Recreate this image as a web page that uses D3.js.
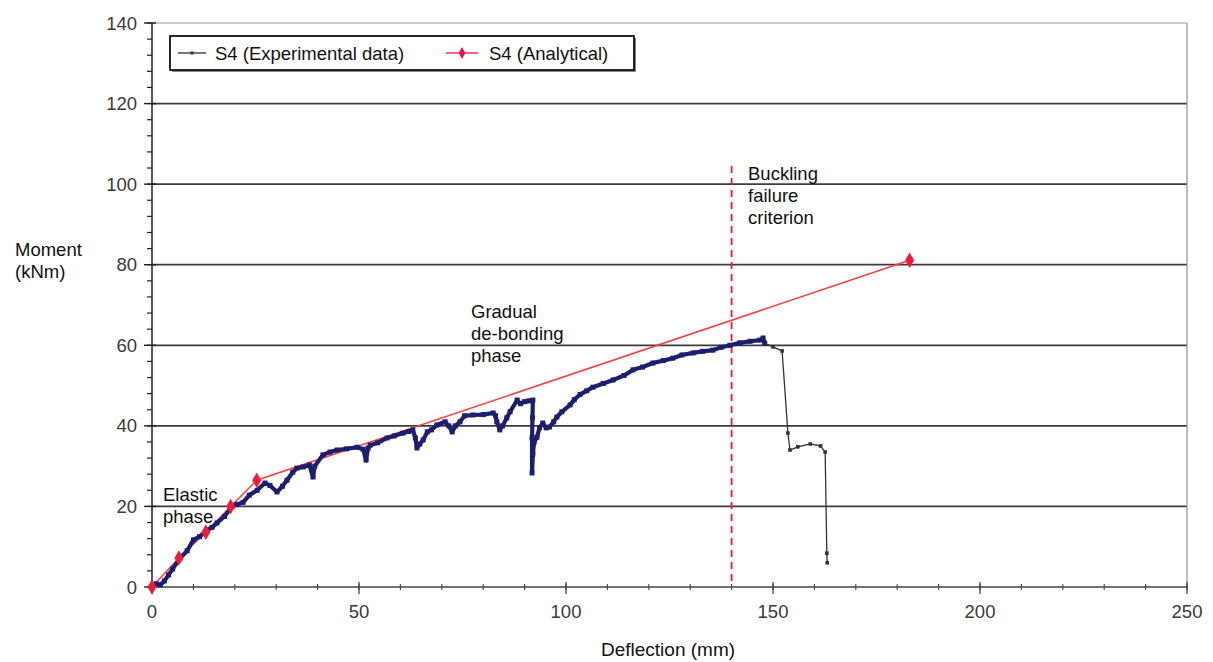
<!DOCTYPE html>
<html>
<head>
<meta charset="utf-8">
<script src="https://cdn.jsdelivr.net/npm/d3@7/dist/d3.min.js"></script>
<style>
  html, body { margin: 0; padding: 0; background: #fff; }
  svg { display: block; font-family: "Liberation Sans", Arial, sans-serif; }
</style>
</head>
<body>
<svg id="chart" width="1213" height="662"></svg>
<script>
// Moment–deflection response of specimen S4

// Experimental loading branch (deflection in mm, moment in kNm)
const expDeflection = [0, 1, 2, 3, 4, 5, 6.8, 8.5, 10, 11.5, 13.3, 14.5, 15.7, 17.5, 19.3, 20.5, 22, 23.5, 25.4, 27.3,
  28.5, 30.2, 31.5, 32.6, 34, 35, 36.5, 38, 38.9, 39.3, 41.3, 43, 44.7, 47, 49.5, 51, 51.7, 52.2, 52.7, 54.5,
  56.8, 58.5, 60.6, 62, 63, 63.6, 64, 64.7, 65.5, 66.5, 67.5, 68.8, 70.8, 71.7, 72.5, 73.3, 74.4, 75.5, 77.5, 80,
  82.4, 83, 83.3, 84, 84.7, 85.7, 86.5, 88.2, 89, 90, 91, 92, 91.9, 91.8, 91.8, 92, 92.3, 93, 93.6, 94.4,
  95.2, 96, 97, 97.8, 99, 101, 102, 103.4, 105, 106.5, 109, 111.4, 114, 116.2, 118.5, 121, 123.5, 125.8, 128, 130.7,
  133, 135.5, 137.5, 139.6, 142, 144.5, 146.9, 147.6, 148];
const expMoment = [0, 0.8, 0.5, 1.5, 3, 4.5, 7.2, 9, 11.7, 12.5, 14.1, 14.8, 15.9, 17.5, 19.9, 20.5, 21, 22.8, 24, 25.8,
  25.2, 23.6, 25, 26.5, 28.5, 29.5, 29.8, 30.3, 27.3, 30, 32.8, 33.5, 34, 34.3, 34.7, 34.2, 31.5, 34.5, 35.2, 35.8,
  37, 37.5, 38.2, 38.6, 39, 37, 34.5, 35.5, 36.5, 38.5, 39, 40.2, 41, 40, 38.5, 40, 41, 42.5, 42.7, 42.8,
  43.2, 42.5, 41, 39, 40, 42, 43.5, 46.4, 45.5, 46, 46.2, 46.4, 42, 37, 28.3, 33, 36, 37.2, 39.5, 40.7,
  39.5, 39.7, 41, 42.2, 43.5, 45.2, 46.5, 47.8, 48.7, 49.6, 50.5, 51.4, 52.5, 53.9, 54.6, 55.6, 56.2, 56.8, 57.6, 58.1,
  58.5, 58.8, 59.5, 60, 60.6, 61, 61.3, 61.8, 60.5];

// Experimental post-peak branch (sparse readings)
const postDeflection = [148, 150, 152.2, 153.6, 154.1, 156, 159, 161.5, 162.6, 163, 163.1];
const postMoment = [60.5, 59.6, 58.6, 38.2, 34, 34.8, 35.5, 35, 33.5, 8.4, 6];

// Analytical prediction
const anaDeflection = [0, 6.5, 13, 19, 25.3, 183];
const anaMoment = [0, 7.2, 13.6, 20, 26.5, 81.1];

// Axis ticks
const xTicks = [0, 50, 100, 150, 200, 250];
const yTicks = [0, 20, 40, 60, 80, 100, 120, 140];

// Buckling failure criterion
const bucklingDeflection = 140;
const bucklingTop = 104.5;

const legendLabels = ["S4 (Experimental data)", "S4 (Analytical)"];

const svg = d3.select("#chart");
const plotLeft = 152, plotRight = 1187, plotTop = 23, plotBottom = 587;
const FONT = 18.5;

const x = d3.scaleLinear().domain([0, 250]).range([plotLeft, plotRight]);
const y = d3.scaleLinear().domain([0, 140]).range([plotBottom, plotTop]);

// Horizontal gridlines
svg.append("g").selectAll("line")
  .data(yTicks.filter(d => d > 0))
  .join("line")
  .attr("x1", plotLeft).attr("x2", plotRight)
  .attr("y1", d => y(d)).attr("y2", d => y(d))
  .attr("stroke", d => d === 140 ? "#b8b8b8" : "#3c3c3c")
  .attr("stroke-width", d => d === 140 ? 1.5 : 1.8);

// Right edge of the plot area
svg.append("line")
  .attr("x1", plotRight).attr("x2", plotRight)
  .attr("y1", plotTop).attr("y2", plotBottom)
  .attr("stroke", "#9a9a9a").attr("stroke-width", 1.3);

// Y axis: line, minor ticks every 4, major ticks every 20
const yAxisG = svg.append("g").attr("stroke", "#222");
yAxisG.append("line")
  .attr("x1", plotLeft).attr("x2", plotLeft).attr("y1", plotTop).attr("y2", plotBottom)
  .attr("stroke-width", 1.5);
yAxisG.selectAll("line.minor")
  .data(d3.range(0, 141, 4))
  .join("line").attr("class", "minor")
  .attr("x1", plotLeft - 5).attr("x2", plotLeft)
  .attr("y1", d => y(d)).attr("y2", d => y(d))
  .attr("stroke-width", 1.2);
yAxisG.selectAll("line.major")
  .data(yTicks)
  .join("line").attr("class", "major")
  .attr("x1", plotLeft - 8).attr("x2", plotLeft + 4)
  .attr("y1", d => y(d)).attr("y2", d => y(d))
  .attr("stroke-width", 1.4);
svg.append("g").selectAll("text")
  .data(yTicks)
  .join("text")
  .attr("x", plotLeft - 15).attr("y", d => y(d) + 6.5)
  .attr("text-anchor", "end")
  .attr("font-size", FONT).attr("fill", "#3a3a3a")
  .text(d => d);

// X axis: line, minor ticks every 10, major ticks every 50
const xAxisG = svg.append("g").attr("stroke", "#444");
xAxisG.append("line")
  .attr("x1", plotLeft).attr("x2", plotRight).attr("y1", plotBottom).attr("y2", plotBottom)
  .attr("stroke-width", 1.6);
xAxisG.selectAll("line.minor")
  .data(d3.range(0, 251, 10))
  .join("line").attr("class", "minor")
  .attr("x1", d => x(d)).attr("x2", d => x(d))
  .attr("y1", plotBottom - 3).attr("y2", plotBottom + 3)
  .attr("stroke-width", 1.1);
xAxisG.selectAll("line.major")
  .data(xTicks)
  .join("line").attr("class", "major")
  .attr("x1", d => x(d)).attr("x2", d => x(d))
  .attr("y1", plotBottom - 5).attr("y2", plotBottom + 7)
  .attr("stroke-width", 1.3);
svg.append("g").selectAll("text")
  .data(xTicks)
  .join("text")
  .attr("x", d => x(d)).attr("y", plotBottom + 31)
  .attr("text-anchor", "middle")
  .attr("font-size", FONT).attr("fill", "#3a3a3a")
  .text(d => d);

// Axis titles
svg.append("text")
  .attr("x", 668).attr("y", 656)
  .attr("text-anchor", "middle").attr("font-size", 19).attr("fill", "#111")
  .text("Deflection (mm)");
const yTitle = svg.append("text").attr("font-size", FONT).attr("fill", "#111");
yTitle.append("tspan").attr("x", 15).attr("y", 256).text("Moment");
yTitle.append("tspan").attr("x", 15).attr("y", 278).text("(kNm)");

// Buckling failure criterion (dashed vertical)
svg.append("line")
  .attr("x1", x(bucklingDeflection)).attr("x2", x(bucklingDeflection))
  .attr("y1", y(bucklingTop)).attr("y2", y(0))
  .attr("stroke", "#e8202a").attr("stroke-width", 1.8)
  .attr("stroke-dasharray", "7,5");

// Analytical prediction line
const anaData = anaDeflection.map((d, i) => [d, anaMoment[i]]);
const lineGen = d3.line().x(d => x(d[0])).y(d => y(d[1]));
svg.append("path")
  .datum(anaData)
  .attr("d", lineGen)
  .attr("fill", "none").attr("stroke", "#ff3b3b").attr("stroke-width", 1.5);

// Experimental loading branch
const expData = expDeflection.map((d, i) => [d, expMoment[i]]);
svg.append("path")
  .datum(expData)
  .attr("d", lineGen)
  .attr("fill", "none").attr("stroke", "#1d1f6e")
  .attr("stroke-width", 4.2).attr("stroke-linejoin", "round").attr("stroke-linecap", "round");
svg.append("g").selectAll("rect")
  .data(expData)
  .join("rect")
  .attr("x", d => x(d[0]) - 2.5).attr("y", d => y(d[1]) - 2.5)
  .attr("width", 5).attr("height", 5)
  .attr("fill", "#1d1f6e");

// Experimental post-peak branch
const postData = postDeflection.map((d, i) => [d, postMoment[i]]);
svg.append("path")
  .datum(postData)
  .attr("d", lineGen)
  .attr("fill", "none").attr("stroke", "#333").attr("stroke-width", 1.3)
  .attr("stroke-linejoin", "round");
svg.append("g").selectAll("rect")
  .data(postData.slice(1))
  .join("rect")
  .attr("x", d => x(d[0]) - 1.8).attr("y", d => y(d[1]) - 1.8)
  .attr("width", 3.6).attr("height", 3.6)
  .attr("fill", "#333");

// Analytical markers drawn on top
const diamond = d3.symbol().type(d3.symbolDiamond).size(70);
svg.append("g").selectAll("path")
  .data(anaData)
  .join("path")
  .attr("transform", d => `translate(${x(d[0])},${y(d[1])})`)
  .attr("d", diamond)
  .attr("fill", "#ee1c3a");

// Phase annotations
function multiLine(xPos, yPos, lines) {
  const t = svg.append("text").attr("font-size", FONT).attr("fill", "#111");
  lines.forEach((s, i) => t.append("tspan").attr("x", xPos).attr("y", yPos + i * 22).text(s));
}
multiLine(163, 501, ["Elastic", "phase"]);
multiLine(471, 318, ["Gradual", "de-bonding", "phase"]);
multiLine(748, 180, ["Buckling", "failure", "criterion"]);

// Legend
const lg = svg.append("g");
lg.append("rect")
  .attr("x", 172).attr("y", 38).attr("width", 464).attr("height", 34)
  .attr("fill", "#888");
lg.append("rect")
  .attr("x", 170).attr("y", 36).attr("width", 464).attr("height", 34)
  .attr("fill", "#fff").attr("stroke", "#111").attr("stroke-width", 1.8);
lg.append("line")
  .attr("x1", 178).attr("x2", 206).attr("y1", 53).attr("y2", 53)
  .attr("stroke", "#333").attr("stroke-width", 1.3);
lg.append("rect").attr("x", 190.5).attr("y", 51.5).attr("width", 3).attr("height", 3).attr("fill", "#333");
lg.append("text").attr("x", 215).attr("y", 59.5).attr("font-size", FONT).attr("fill", "#111").text(legendLabels[0]);
lg.append("line")
  .attr("x1", 446).attr("x2", 478).attr("y1", 53).attr("y2", 53)
  .attr("stroke", "#ee2255").attr("stroke-width", 1.4);
lg.append("path")
  .attr("transform", "translate(462,53)")
  .attr("d", d3.symbol().type(d3.symbolDiamond).size(40))
  .attr("fill", "#e8174a");
lg.append("text").attr("x", 489).attr("y", 59.5).attr("font-size", FONT).attr("fill", "#111").text(legendLabels[1]);
</script>
</body>
</html>
